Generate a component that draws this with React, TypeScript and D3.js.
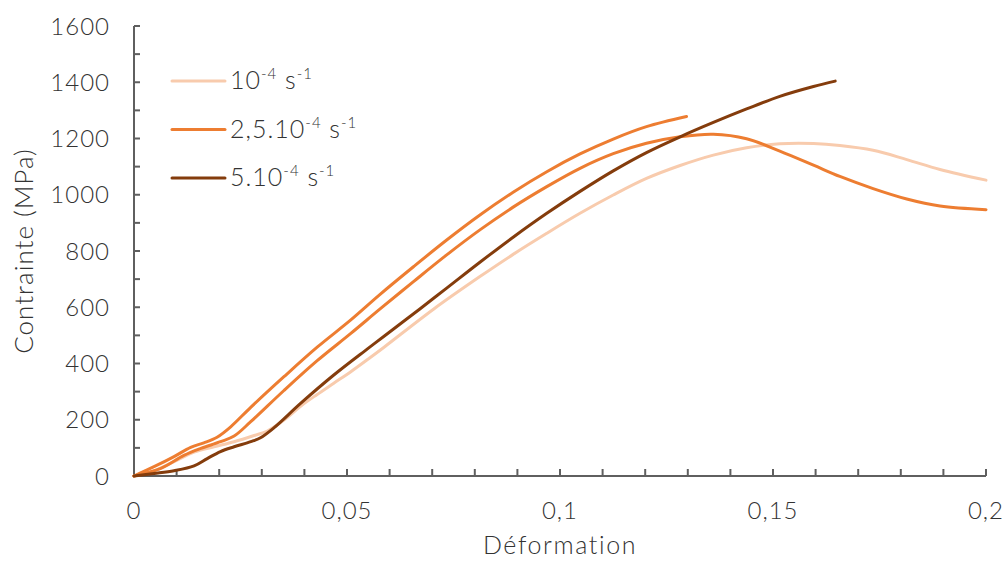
import React from "react";
import * as d3 from "d3";

type Pt = [number, number];

// strain (Déformation) and stress (Contrainte, MPa)
const serieLight: Pt[] = [
  [0, 0], [0.0047, 18], [0.0094, 51], [0.0141, 85], [0.0188, 104], [0.0235, 122],
  [0.0282, 144], [0.0313, 160], [0.0352, 199], [0.0391, 248], [0.043, 290],
  [0.0469, 330], [0.0509, 371], [0.0548, 414], [0.0587, 458], [0.0703, 593],
  [0.0812, 709], [0.089, 788], [0.0969, 863], [0.1047, 934], [0.1125, 999],
  [0.1203, 1058], [0.1282, 1104], [0.136, 1141], [0.1438, 1167], [0.1516, 1181],
  [0.1595, 1182], [0.1657, 1175], [0.1735, 1158], [0.1814, 1125], [0.1892, 1090],
  [0.2, 1052],
];

const serieOrangeA: Pt[] = [
  [0, 0], [0.0047, 33], [0.0094, 69], [0.0133, 102], [0.0164, 118], [0.0195, 138],
  [0.0227, 175], [0.0274, 244], [0.0352, 353], [0.043, 458], [0.0509, 555],
  [0.0577, 645], [0.0656, 744], [0.0734, 839], [0.0812, 928], [0.089, 1009],
  [0.0969, 1082], [0.1047, 1145], [0.1125, 1198], [0.1203, 1242], [0.1297, 1278],
];

const serieOrangeB: Pt[] = [
  [0, 0], [0.0063, 27], [0.0117, 73], [0.0157, 98], [0.0203, 122], [0.0235, 142],
  [0.0274, 193], [0.0352, 304], [0.043, 410], [0.0509, 507], [0.0577, 593],
  [0.0656, 691], [0.0734, 786], [0.0812, 875], [0.089, 956], [0.0969, 1029],
  [0.1047, 1094], [0.1125, 1146], [0.1203, 1183], [0.1282, 1206], [0.136, 1215],
  [0.1438, 1199], [0.1516, 1155], [0.1595, 1105], [0.1657, 1065], [0.1735, 1022],
  [0.1814, 985], [0.1892, 960], [0.2, 947],
];

const serieDark: Pt[] = [
  [0, 0], [0.0047, 9], [0.0094, 19], [0.0141, 36], [0.0172, 62], [0.0203, 87],
  [0.0235, 104], [0.0274, 122], [0.0297, 136], [0.0329, 172], [0.0391, 258],
  [0.0469, 359], [0.0548, 452], [0.0587, 497], [0.0671, 594], [0.0734, 668],
  [0.0812, 760], [0.089, 849], [0.0969, 934], [0.1047, 1012], [0.1125, 1085],
  [0.1203, 1150], [0.1282, 1206], [0.136, 1257], [0.1438, 1305], [0.1516, 1350],
  [0.1595, 1385], [0.1646, 1404],
];

const yTickValues = [0, 200, 400, 600, 800, 1000, 1200, 1400, 1600];
const yMinorValues = d3.range(0, 1601, 100);
const xTickValues = [0, 0.05, 0.1, 0.15, 0.2];
const xTickLabels = ["0", "0,05", "0,1", "0,15", "0,2"];
const xMinorValues = d3.range(0, 21).map((i) => i / 100);

const legendLabels = [
  { base: "10", exp1: "-4", unit: " s", exp2: "-1" },
  { base: "2,5.10", exp1: "-4", unit: " s", exp2: "-1" },
  { base: "5.10", exp1: "-4", unit: " s", exp2: "-1" },
];

const COL_LIGHT = "#F8CBAD";
const COL_ORANGE = "#ED7D31";
const COL_DARK = "#843C0C";
const AXIS = "#5f5f5f";
const TEXT = "#333333";
const FONT = "Lato, 'Open Sans', sans-serif";

export default function App() {
  const W = 1007;
  const H = 561;
  const x = d3.scaleLinear().domain([0, 0.2]).range([134, 986]);
  const y = d3.scaleLinear().domain([0, 1600]).range([476, 26]);
  const line = d3
    .line<Pt>()
    .x((d) => x(d[0]))
    .y((d) => y(d[1]))
    .curve(d3.curveCatmullRom.alpha(0.5));

  const series = [
    { data: serieLight, color: COL_LIGHT },
    { data: serieOrangeB, color: COL_ORANGE },
    { data: serieOrangeA, color: COL_ORANGE },
    { data: serieDark, color: COL_DARK },
  ];
  const legendColors = [COL_LIGHT, COL_ORANGE, COL_DARK];

  return (
    <svg
      width={W}
      height={H}
      style={{ position: "absolute", left: 0, top: 0, background: "#fff" }}
      fontFamily={FONT}
      fontWeight={300}
    >
      <rect x={0} y={0} width={W} height={H} fill="#fff" />
      {/* axes */}
      <line x1={x(0)} x2={x(0)} y1={y(1600)} y2={y(0)} stroke={AXIS} strokeWidth={2} />
      <line x1={x(0)} x2={x(0.2)} y1={y(0)} y2={y(0)} stroke={AXIS} strokeWidth={2} />
      {yMinorValues.map((v) => (
        <line key={"yt" + v} x1={x(0)} x2={x(0) + 6} y1={y(v)} y2={y(v)} stroke={AXIS} strokeWidth={2} />
      ))}
      {xMinorValues.map((v) => (
        <line key={"xt" + v} x1={x(v)} x2={x(v)} y1={y(0)} y2={y(0) - 7} stroke={AXIS} strokeWidth={2} />
      ))}
      {yTickValues.map((v) => (
        <text
          key={"yl" + v}
          x={x(0) - 24}
          y={y(v)}
          dy="0.36em"
          textAnchor="end"
          fontSize={24}
          letterSpacing={1}
          fill={TEXT}
        >
          {v}
        </text>
      ))}
      {xTickValues.map((v, i) => (
        <text key={"xl" + v} x={x(v)} y={519} textAnchor="middle" fontSize={24} letterSpacing={1} fill={TEXT}>
          {xTickLabels[i]}
        </text>
      ))}
      <text x={x(0.1)} y={554} textAnchor="middle" fontSize={25} letterSpacing={1.6} fill={TEXT}>
        Déformation
      </text>
      <text
        transform={`translate(33, ${(y(0) + y(1600)) / 2}) rotate(-90)`}
        textAnchor="middle"
        fontSize={26}
        letterSpacing={1}
        fill={TEXT}
      >
        Contrainte (MPa)
      </text>
      {/* series */}
      {series.map((s, i) => (
        <path
          key={"s" + i}
          d={line(s.data) || ""}
          fill="none"
          stroke={s.color}
          strokeWidth={3}
          strokeLinecap="round"
          strokeLinejoin="round"
        />
      ))}
      {/* legend */}
      {legendLabels.map((l, i) => {
        const ly = 81 + i * 48.5;
        return (
          <g key={"lg" + i}>
            <line x1={172} x2={225} y1={ly} y2={ly} stroke={legendColors[i]} strokeWidth={3} strokeLinecap="round" />
            <text x={230} y={ly + 8} fontSize={25} letterSpacing={1} fill={TEXT}>
              {l.base}
              <tspan fontSize={15} dy={-10}>{l.exp1}</tspan>
              <tspan fontSize={25} dy={10}>{l.unit}</tspan>
              <tspan fontSize={15} dy={-10}>{l.exp2}</tspan>
            </text>
          </g>
        );
      })}
    </svg>
  );
}
